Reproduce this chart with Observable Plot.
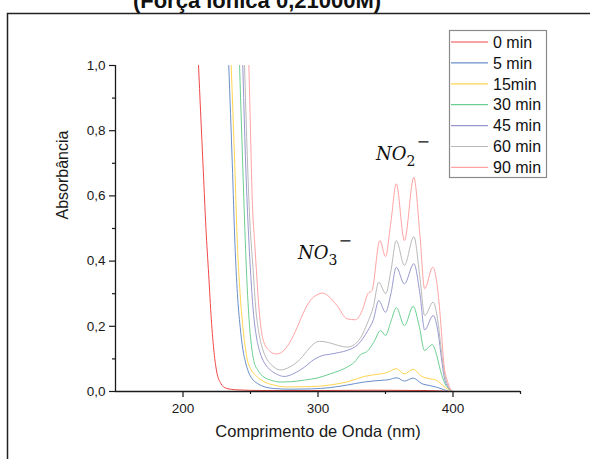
<!DOCTYPE html>
<html><head><meta charset="utf-8">
<script src="https://cdn.jsdelivr.net/npm/d3@7"></script>
<script src="https://cdn.jsdelivr.net/npm/@observablehq/plot@0.6"></script>
<style>body{margin:0;background:#fff;} #chart{width:590px;height:459px;overflow:hidden;}</style>
</head><body><div id="chart"></div>
<script>
// ---- data ----
const seriesNames = ["0 min", "5 min", "15min", "30 min", "45 min", "60 min", "90 min"];
const seriesColors = ["#f24848", "#6a8fca", "#ffd54f", "#6ccf92", "#9898cf", "#b9b9b9", "#ffa3a3"];

const wl0 = [211.5, 213, 215, 217, 219, 221, 223, 225, 228, 232, 240, 260, 300, 340, 380, 400];
const ab0 = [1.0, 0.86, 0.68, 0.5, 0.36, 0.22, 0.12, 0.06, 0.025, 0.01, 0.005, 0.003, 0.003, 0.004, 0.003, 0.0];

const wl5 = [233.9, 236.5, 238.5, 240.3, 242.3, 244.3, 246.3, 248.5, 251, 255, 260, 268, 280, 295, 309, 322, 334, 346, 352, 358.5, 364, 370.5, 377, 383, 388, 393, 398, 400];
const ab5 = [1.0, 0.7, 0.45, 0.3, 0.2, 0.13, 0.09, 0.06, 0.04, 0.025, 0.015, 0.009, 0.007, 0.008, 0.012, 0.02, 0.029, 0.034, 0.036, 0.042, 0.032, 0.041, 0.024, 0.018, 0.013, 0.006, 0.0, 0.0];

const wl15 = [235.7, 238.3, 240.3, 242.3, 244.3, 246.3, 247.5, 250, 253.7, 260, 267, 278, 295, 309, 322, 334, 346, 351, 358, 364, 370.5, 377, 383, 388, 392, 397, 400];
const ab15 = [1.0, 0.7, 0.45, 0.3, 0.2, 0.13, 0.1, 0.07, 0.05, 0.03, 0.02, 0.014, 0.015, 0.02, 0.03, 0.046, 0.054, 0.058, 0.07, 0.054, 0.068, 0.046, 0.039, 0.034, 0.02, 0.005, 0.0];

const wl30 = [241.9, 244.2, 245.8, 247, 249.3, 251, 252.4, 255.5, 260, 265, 272, 280, 290, 300, 309, 321.6, 327, 331.5, 336.4, 341.3, 346.3, 350, 354, 358.1, 364, 370.5, 375, 378.9, 384.6, 388, 390.7, 394, 397, 400];
const ab30 = [1.0, 0.7, 0.5, 0.37, 0.2, 0.13, 0.095, 0.065, 0.044, 0.035, 0.029, 0.03, 0.035, 0.042, 0.054, 0.075, 0.09, 0.113, 0.123, 0.151, 0.187, 0.172, 0.215, 0.257, 0.202, 0.261, 0.2, 0.126, 0.144, 0.11, 0.064, 0.025, 0.008, 0.0];

const wl45 = [244.3, 246, 247.8, 250, 252, 254.3, 257, 260, 265, 270, 275, 282, 290, 297, 303, 310, 316, 321.6, 330, 336.9, 341, 345, 350, 354, 358, 364, 371, 375.5, 379, 385.3, 389, 391.5, 393.5, 396, 399];
const ab45 = [1.0, 0.75, 0.55, 0.37, 0.25, 0.17, 0.12, 0.09, 0.065, 0.052, 0.046, 0.055, 0.075, 0.098, 0.11, 0.115, 0.12, 0.126, 0.146, 0.187, 0.22, 0.279, 0.243, 0.3, 0.381, 0.33, 0.392, 0.3, 0.189, 0.233, 0.18, 0.1, 0.044, 0.015, 0.0];

const wl60 = [245.6, 247.4, 249.2, 252, 254, 256.2, 259, 262, 266, 272, 279, 287, 293, 298, 301, 308, 316, 321.6, 330, 336.9, 341, 345, 350.2, 354, 358, 364, 371, 375.5, 379, 385.3, 389, 391.5, 393.5, 396, 399];
const ab60 = [1.0, 0.75, 0.55, 0.37, 0.25, 0.18, 0.13, 0.1, 0.08, 0.066, 0.075, 0.1, 0.13, 0.15, 0.154, 0.15, 0.14, 0.136, 0.156, 0.213, 0.26, 0.335, 0.3, 0.37, 0.463, 0.387, 0.475, 0.35, 0.233, 0.274, 0.21, 0.12, 0.06, 0.02, 0.0];

const wl90 = [248.8, 250, 251.2, 253.2, 254.4, 256, 257.6, 260, 264, 269, 273, 279, 284.6, 289, 294.4, 300, 303, 307, 314, 321.6, 327.8, 332.7, 337, 340, 345.8, 350, 354, 358, 364, 371, 375.5, 379, 385, 389, 391.5, 393.2, 396, 399];
const ab90 = [1.0, 0.8, 0.6, 0.45, 0.37, 0.27, 0.2, 0.15, 0.125, 0.115, 0.12, 0.15, 0.197, 0.24, 0.28, 0.298, 0.302, 0.295, 0.264, 0.223, 0.22, 0.248, 0.3, 0.31, 0.463, 0.414, 0.52, 0.637, 0.463, 0.657, 0.48, 0.315, 0.381, 0.3, 0.18, 0.085, 0.03, 0.0];

const xTicks = [200, 300, 400];
const xMinor = [250, 350, 450];
const yTicks = [0, 0.2, 0.4, 0.6, 0.8, 1.0];
const yMinor = [0.1, 0.3, 0.5, 0.7, 0.9];

const titleText = "(Força iônica 0,21000M)";
const xTitle = "Comprimento de Onda (nm)";
const yTitle = "Absorbância";
const ionLabels = [
  {base: "NO", sub: "3", wl: 285.6, ab: 0.405},
  {base: "NO", sub: "2", wl: 343.3, ab: 0.71}
];

// ---- build table ----
const wls = [wl0, wl5, wl15, wl30, wl45, wl60, wl90];
const abss = [ab0, ab5, ab15, ab30, ab45, ab60, ab90];
const data = seriesNames.flatMap((s, i) => wls[i].map((w, j) => ({series: s, wl: w, ab: abss[i][j]})));

const font = "'Liberation Sans', Arial, sans-serif";

const plot = Plot.plot({
  width: 590, height: 459,
  marginLeft: 115, marginRight: 70, marginTop: 65, marginBottom: 68,
  style: {fontFamily: font, fontSize: "13.5px", color: "#1a1a1a", background: "#fff", overflow: "visible"},
  x: {domain: [150, 450]},
  y: {domain: [0, 1]},
  color: {domain: seriesNames, range: seriesColors},
  marks: [
    Plot.axisX({ticks: xTicks, tickSize: 6, tickPadding: 6, tickFormat: d => String(d), label: null, strokeWidth: 1.2}),
    Plot.axisX({ticks: xMinor, tickSize: 3, tickFormat: () => "", label: null, strokeWidth: 1.2}),
    Plot.axisY({ticks: yTicks, tickSize: 6, tickPadding: 4, tickFormat: d => d.toFixed(1).replace(".", ","), label: null, strokeWidth: 1.2}),
    Plot.axisY({ticks: yMinor, tickSize: 3, tickFormat: () => "", label: null, strokeWidth: 1.2}),
    Plot.line(data, {x: "wl", y: "ab", z: "series", stroke: "series", curve: "monotone-x", strokeWidth: 1, clip: true}),
    Plot.ruleY([0], {stroke: "#1a1a1a", strokeWidth: 1.3}),
    Plot.ruleX([150], {stroke: "#1a1a1a", strokeWidth: 1.3}),
    Plot.text([xTitle], {text: d => d, frameAnchor: "bottom", dy: 45, fontSize: 16.5, fill: "#1a1a1a"}),
    Plot.text([yTitle], {text: d => d, frameAnchor: "left", dx: -53, dy: -9, rotate: -90, fontSize: 16, fill: "#1a1a1a"})
  ]
});

document.getElementById("chart").appendChild(plot);
const svg = d3.select(plot);
const xs = plot.scale("x"), ys = plot.scale("y");

// outer frame
svg.insert("rect", ":first-child")
  .attr("x", 7.5).attr("y", 13.5).attr("width", 700).attr("height", 600)
  .attr("fill", "none").attr("stroke", "#222").attr("stroke-width", 1.5);

// title (partly cut off at top, as in the reference)
svg.append("text").attr("x", 257).attr("y", 8).attr("text-anchor", "middle")
  .attr("font-family", font).attr("font-weight", "bold").attr("font-size", 22)
  .attr("fill", "#111").text(titleText);

// ion annotations
ionLabels.forEach(l => {
  const t = svg.append("text")
    .attr("x", xs.apply(l.wl)).attr("y", ys.apply(l.ab))
    .attr("text-anchor", "start")
    .attr("font-family", "'DejaVu Serif', serif").attr("font-style", "italic")
    .attr("font-size", 18).attr("fill", "#111");
  t.append("tspan").text(l.base);
  t.append("tspan").attr("dy", 6).attr("font-size", 14).attr("font-style", "normal").text(l.sub);
  t.append("tspan").attr("dy", -19).attr("dx", 1).attr("font-size", 16).attr("font-style", "normal").text("−");
});

// legend
const lg = svg.append("g").attr("font-family", font).attr("font-size", 16).attr("text-anchor", "start");
lg.append("rect").attr("x", 449.5).attr("y", 30.5).attr("width", 97).attr("height", 147)
  .attr("fill", "#fff").attr("stroke", "#8a8a8a").attr("stroke-width", 1.2);
seriesNames.forEach((s, i) => {
  const y = 42 + i * 20.9;
  lg.append("line").attr("x1", 451).attr("x2", 488).attr("y1", y).attr("y2", y)
    .attr("stroke", seriesColors[i]).attr("stroke-width", 1.2);
  lg.append("text").attr("x", 493).attr("y", y).attr("dy", "0.36em").attr("fill", "#111").text(s);
});
</script>
</body></html>
